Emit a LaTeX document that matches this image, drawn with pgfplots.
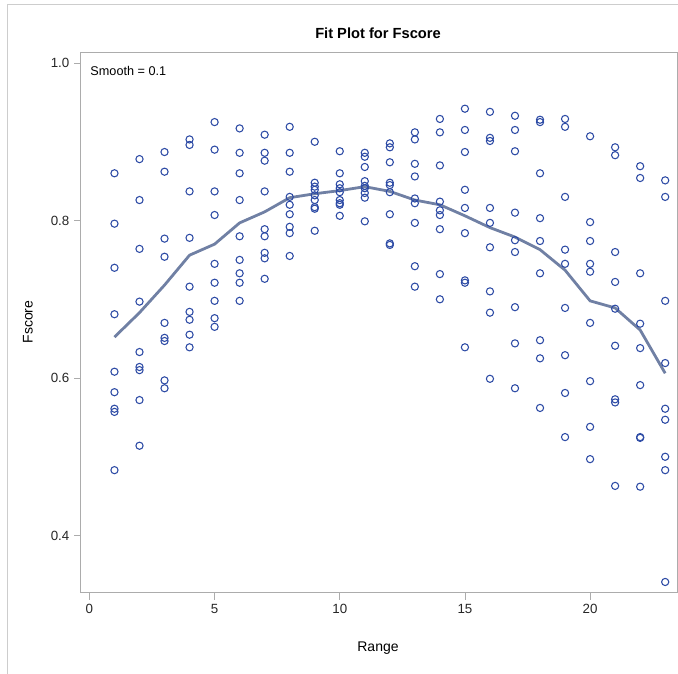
\documentclass[border=0pt]{standalone}
\usepackage{pgfplots}
\pgfplotsset{compat=1.18}
\usepackage{pgfplotstable}
\usepackage{fontspec}
\setmainfont{Liberation Sans}
\definecolor{mk}{RGB}{45,75,165}
\definecolor{fitc}{RGB}{112,128,164}
\definecolor{axc}{RGB}{172,172,172}
\definecolor{brd}{RGB}{205,205,205}

\pgfplotstableread{
x y
1 0.860
1 0.796
1 0.740
1 0.681
1 0.608
1 0.582
1 0.561
1 0.557
1 0.483
2 0.878
2 0.826
2 0.764
2 0.697
2 0.633
2 0.614
2 0.610
2 0.572
2 0.514
3 0.887
3 0.862
3 0.777
3 0.754
3 0.670
3 0.651
3 0.647
3 0.597
3 0.587
4 0.903
4 0.896
4 0.837
4 0.778
4 0.716
4 0.684
4 0.674
4 0.655
4 0.639
5 0.925
5 0.890
5 0.837
5 0.807
5 0.745
5 0.721
5 0.698
5 0.676
5 0.665
6 0.917
6 0.886
6 0.860
6 0.826
6 0.780
6 0.750
6 0.733
6 0.721
6 0.698
7 0.909
7 0.886
7 0.876
7 0.837
7 0.789
7 0.780
7 0.759
7 0.752
7 0.726
8 0.919
8 0.886
8 0.862
8 0.830
8 0.820
8 0.808
8 0.792
8 0.784
8 0.755
9 0.900
9 0.848
9 0.843
9 0.839
9 0.832
9 0.826
9 0.817
9 0.815
9 0.787
10 0.888
10 0.860
10 0.846
10 0.841
10 0.836
10 0.826
10 0.822
10 0.820
10 0.806
11 0.886
11 0.881
11 0.868
11 0.850
11 0.844
11 0.841
11 0.835
11 0.829
11 0.799
12 0.898
12 0.893
12 0.874
12 0.848
12 0.845
12 0.836
12 0.808
12 0.771
12 0.769
13 0.912
13 0.903
13 0.872
13 0.856
13 0.828
13 0.822
13 0.797
13 0.742
13 0.716
14 0.929
14 0.912
14 0.870
14 0.824
14 0.813
14 0.807
14 0.789
14 0.732
14 0.700
15 0.942
15 0.915
15 0.887
15 0.839
15 0.816
15 0.784
15 0.724
15 0.721
15 0.639
16 0.938
16 0.905
16 0.901
16 0.816
16 0.797
16 0.766
16 0.710
16 0.683
16 0.599
17 0.933
17 0.915
17 0.888
17 0.810
17 0.775
17 0.760
17 0.690
17 0.644
17 0.587
18 0.928
18 0.925
18 0.860
18 0.803
18 0.774
18 0.733
18 0.648
18 0.625
18 0.562
19 0.929
19 0.919
19 0.830
19 0.763
19 0.745
19 0.689
19 0.629
19 0.581
19 0.525
20 0.907
20 0.798
20 0.774
20 0.745
20 0.735
20 0.670
20 0.596
20 0.538
20 0.497
21 0.893
21 0.883
21 0.760
21 0.722
21 0.688
21 0.641
21 0.573
21 0.569
21 0.463
22 0.869
22 0.854
22 0.733
22 0.669
22 0.638
22 0.591
22 0.525
22 0.524
22 0.462
23 0.851
23 0.830
23 0.698
23 0.619
23 0.561
23 0.547
23 0.500
23 0.483
23 0.341
}\scatterdata

\pgfplotstableread{
x y
1 0.652
2 0.683
3 0.718
4 0.756
5 0.770
6 0.797
7 0.811
8 0.829
9 0.834
10 0.838
11 0.843
12 0.837
13 0.826
14 0.820
15 0.806
16 0.791
17 0.779
18 0.763
19 0.737
20 0.698
21 0.689
22 0.661
23 0.606
}\fitdata

\begin{document}
\begin{tikzpicture}
\useasboundingbox (0,0) rectangle (508.5pt,505.5pt);
\draw[brd, line width=0.75pt] (5.5pt,0) -- (5.5pt,501.75pt) -- (508.5pt,501.75pt);
\begin{axis}[
  at={(60.5pt,60.75pt)}, anchor=south west,
  scale only axis,
  width=447.4pt, height=405.5pt,
  xmin=-0.35, xmax=23.48,
  ymin=0.327, ymax=1.0136,
  xtick={0,5,10,15,20},
  ytick={0.4,0.6,0.8,1.0},
  /pgf/number format/assume math mode=true,
  yticklabel={\pgfmathprintnumber[fixed,fixed zerofill,precision=1]{\tick}},
  xticklabel={\pgfmathprintnumber{\tick}},
  tick label style={font=\fontsize{10}{12}\selectfont, text=black!85},
  xtick pos=bottom, ytick pos=left,
  tick align=outside,
  major tick length=5pt,
  every tick/.style={axc, line width=0.6pt},
  axis line style={axc, line width=0.75pt},
  clip=false,
]
\addplot[only marks, mark=o, mark size=2.7pt, mk, line width=0.8pt] table[x=x,y=y] {\scatterdata};
\addplot[fitc, line width=2.1pt, no marks] table[x=x,y=y] {\fitdata};
\node[anchor=north west, font=\fontsize{9.5}{11}\selectfont, inner sep=0pt] at (rel axis cs:0.016,0.975) {Smooth = 0.1};
\end{axis}
\node[font=\fontsize{11}{13}\bfseries] at (283.5pt,480.75pt) {Fit Plot for Fscore};
\node[font=\fontsize{10.5}{12}\selectfont] at (283.5pt,19.5pt) {Range};
\node[font=\fontsize{10.5}{12}\selectfont, rotate=90] at (21pt,264pt) {Fscore};
\end{tikzpicture}
\end{document}
